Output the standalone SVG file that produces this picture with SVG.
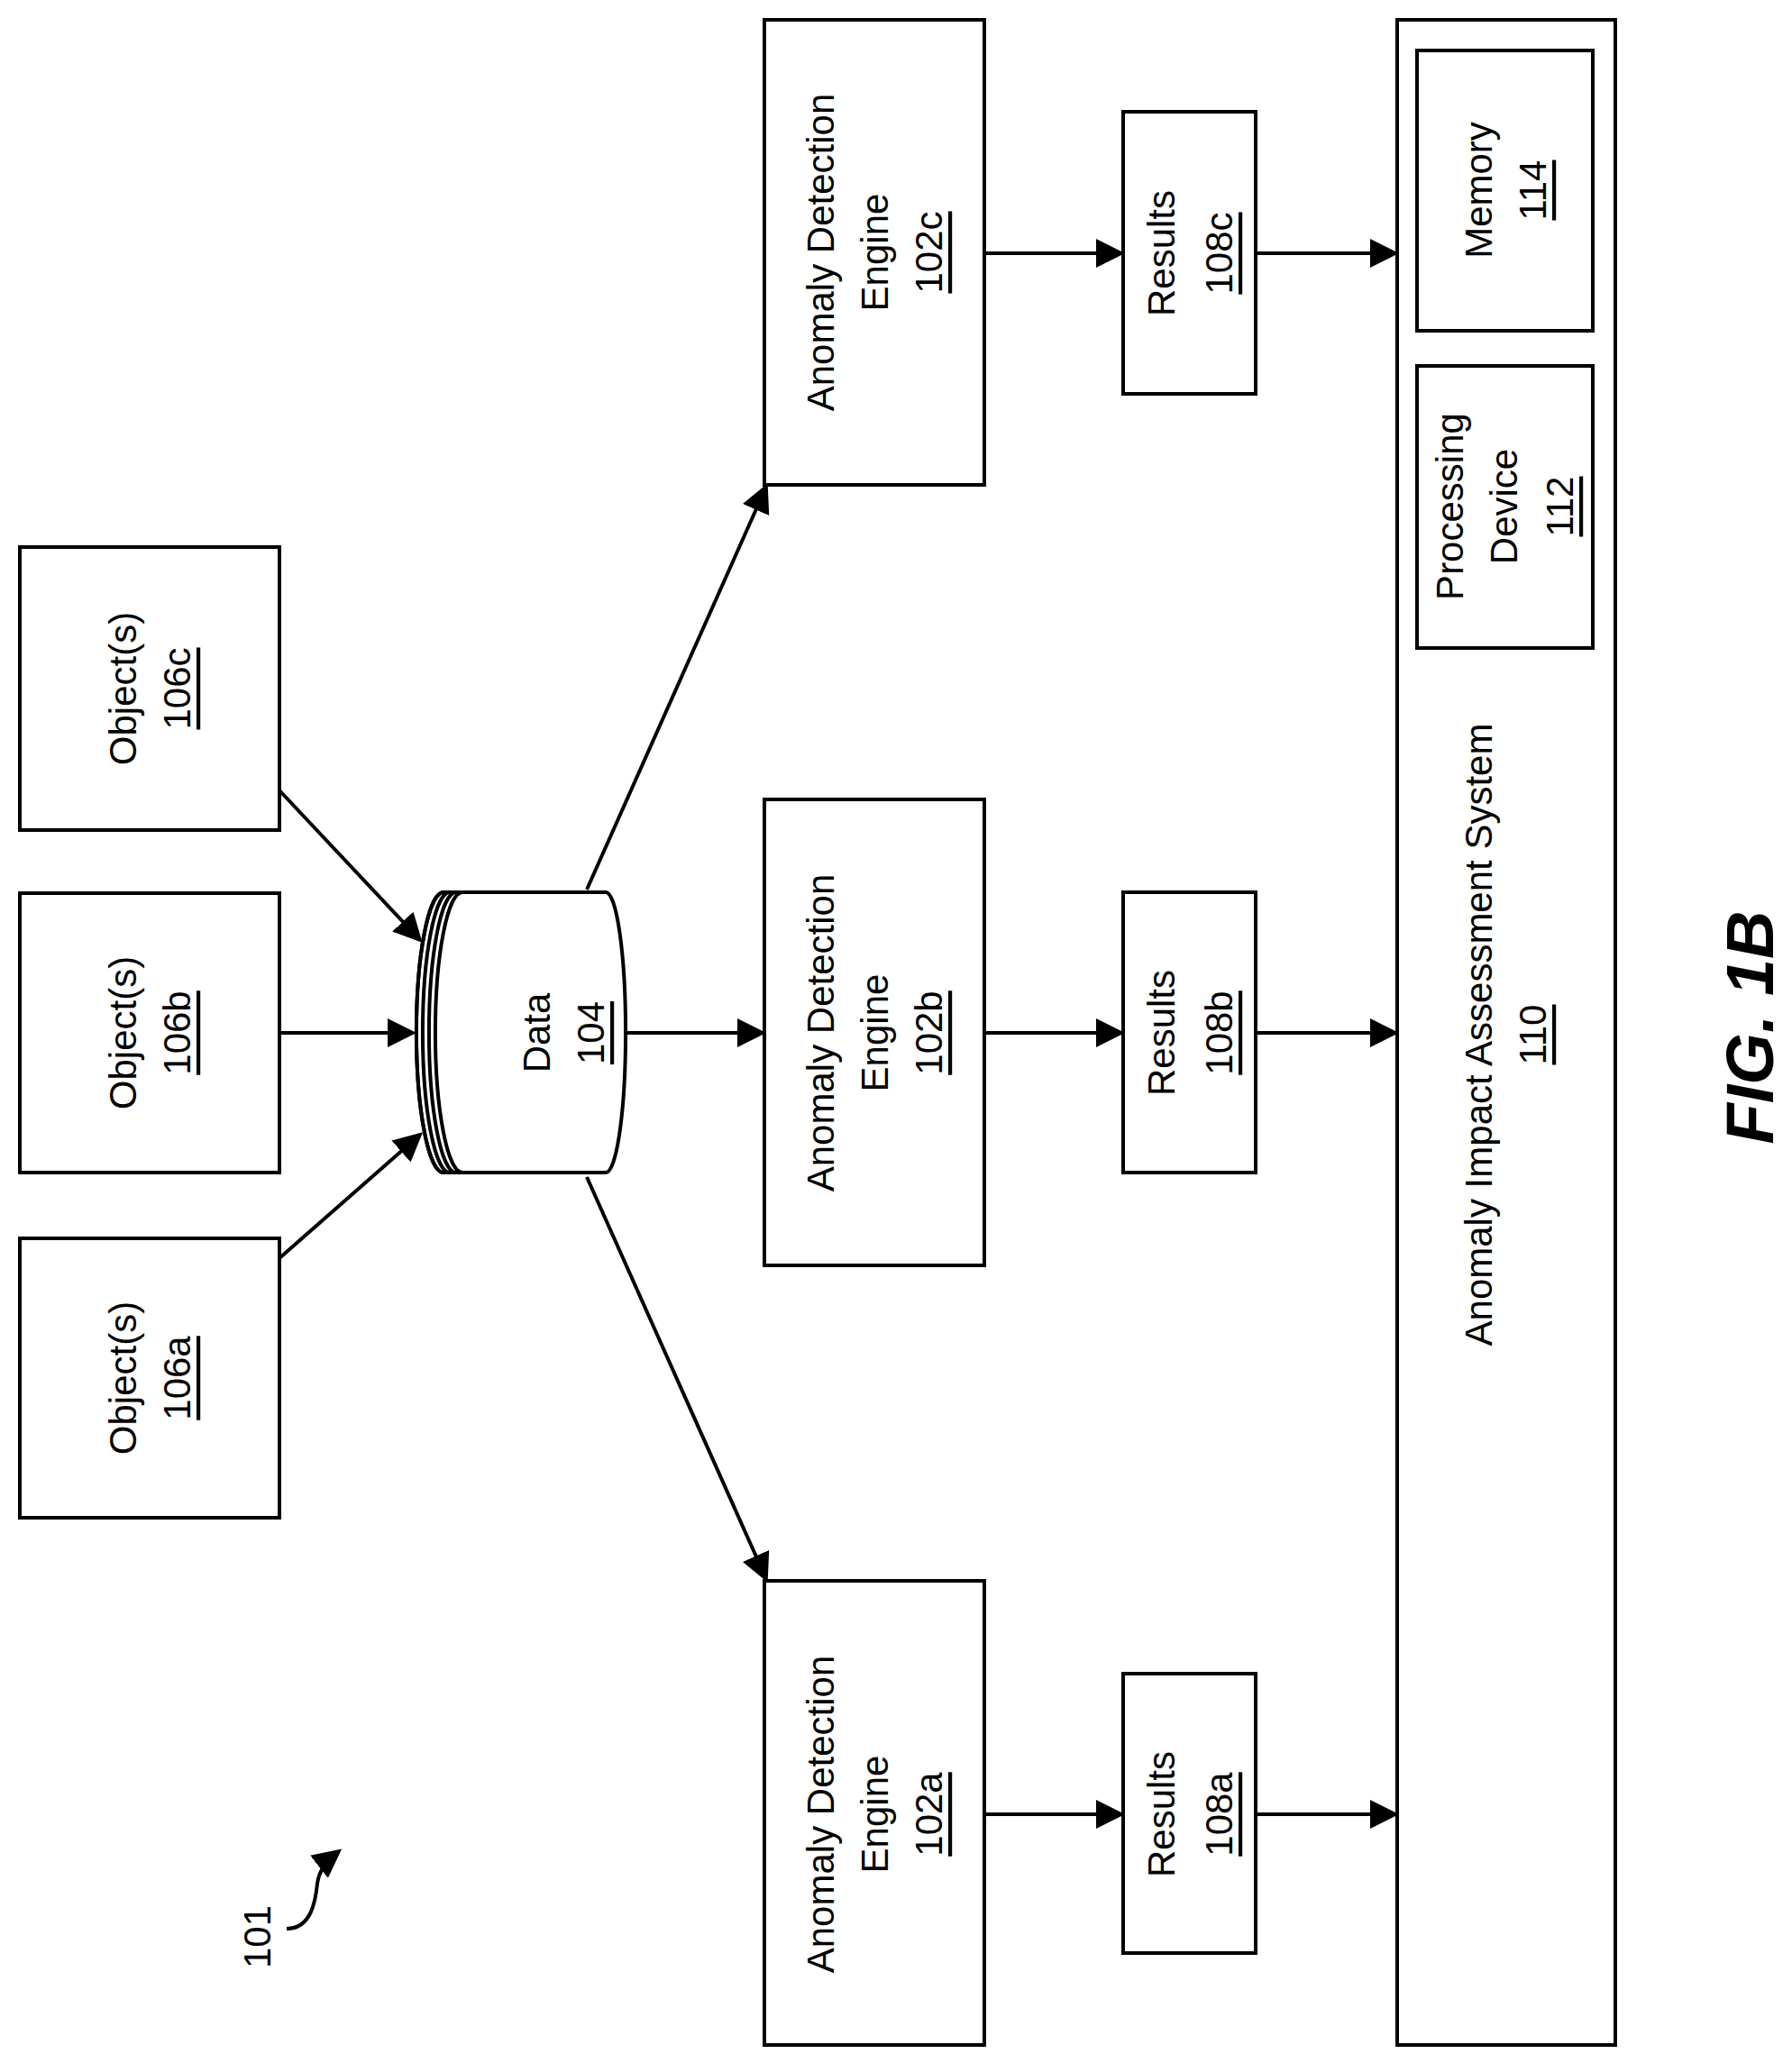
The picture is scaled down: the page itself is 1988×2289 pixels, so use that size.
<svg xmlns="http://www.w3.org/2000/svg" width="1988" height="2289" viewBox="0 0 1988 2289">
<style>
.b{fill:#fff;stroke:#000;stroke-width:4}
.t{font-family:"Liberation Sans",Arial,sans-serif;font-size:42px;text-anchor:middle;dominant-baseline:central;fill:#000}
.u{text-decoration:underline}
.c{stroke:#000;stroke-width:4;fill:none}
</style>
<defs><marker id="a" markerWidth="8" markerHeight="8" refX="7" refY="4" orient="auto" markerUnits="strokeWidth"><path d="M0,0 L8,4 L0,8 z"/></marker></defs>
<rect width="1988" height="2289" fill="#fff"/>
<g id="n106c"><rect class="b" x="22" y="607" width="288" height="314"/><text class="t" transform="translate(166,764) rotate(-90)"><tspan x="0" y="-30">Object(s)</tspan><tspan x="0" y="30" class="u">106c</tspan></text></g>
<g id="n106b"><rect class="b" x="22" y="991" width="288" height="310"/><text class="t" transform="translate(166,1146) rotate(-90)"><tspan x="0" y="-30">Object(s)</tspan><tspan x="0" y="30" class="u">106b</tspan></text></g>
<g id="n106a"><rect class="b" x="22" y="1374" width="288" height="310"/><text class="t" transform="translate(166,1529) rotate(-90)"><tspan x="0" y="-30">Object(s)</tspan><tspan x="0" y="30" class="u">106a</tspan></text></g>
<g id="n104"><path class="b" d="M492,990 L672,990 A22,155 0 0 1 672,1301 L492,1301 A30,155 0 0 1 492,990 z"/><path class="c" stroke-width="3" d="M492,990 A30,155 0 0 0 492,1301 M499,990 A30,155 0 0 0 499,1301 M506,990 A30,155 0 0 0 506,1301 M513,990 A30,155 0 0 0 513,1301"/><text class="t" transform="translate(625,1146) rotate(-90)"><tspan x="0" y="-30">Data</tspan><tspan x="0" y="30" class="u">104</tspan></text></g>
<g id="n102c"><rect class="b" x="848" y="22" width="244" height="516"/><text class="t" transform="translate(970,280) rotate(-90)"><tspan x="0" y="-60">Anomaly Detection</tspan><tspan x="0" y="0">Engine</tspan><tspan x="0" y="60" class="u">102c</tspan></text></g>
<g id="n102b"><rect class="b" x="848" y="887" width="244" height="517"/><text class="t" transform="translate(970,1146) rotate(-90)"><tspan x="0" y="-60">Anomaly Detection</tspan><tspan x="0" y="0">Engine</tspan><tspan x="0" y="60" class="u">102b</tspan></text></g>
<g id="n102a"><rect class="b" x="848" y="1754" width="244" height="515"/><text class="t" transform="translate(970,2013) rotate(-90)"><tspan x="0" y="-60">Anomaly Detection</tspan><tspan x="0" y="0">Engine</tspan><tspan x="0" y="60" class="u">102a</tspan></text></g>
<g id="n108c"><rect class="b" x="1246" y="124" width="147" height="313"/><text class="t" transform="translate(1320,281) rotate(-90)"><tspan x="0" y="-32">Results</tspan><tspan x="0" y="32" class="u">108c</tspan></text></g>
<g id="n108b"><rect class="b" x="1246" y="990" width="147" height="311"/><text class="t" transform="translate(1320,1146) rotate(-90)"><tspan x="0" y="-32">Results</tspan><tspan x="0" y="32" class="u">108b</tspan></text></g>
<g id="n108a"><rect class="b" x="1246" y="1857" width="147" height="310"/><text class="t" transform="translate(1320,2013) rotate(-90)"><tspan x="0" y="-32">Results</tspan><tspan x="0" y="32" class="u">108a</tspan></text></g>
<g id="n110"><rect class="b" x="1550" y="22" width="242" height="2247"/><text class="t" transform="translate(1670,1148) rotate(-90)"><tspan x="0" y="-30">Anomaly Impact Assessment System</tspan><tspan x="0" y="30" class="u">110</tspan></text></g>
<g id="n114"><rect class="b" x="1572" y="56" width="195" height="311"/><text class="t" transform="translate(1670,211) rotate(-90)"><tspan x="0" y="-30">Memory</tspan><tspan x="0" y="30" class="u">114</tspan></text></g>
<g id="n112"><rect class="b" x="1572" y="406" width="195" height="313"/><text class="t" transform="translate(1670,562) rotate(-90)"><tspan x="0" y="-62">Processing</tspan><tspan x="0" y="-2">Device</tspan><tspan x="0" y="60" class="u">112</tspan></text></g>
<g id="connectors">
<line class="c" x1="310" y1="877" x2="466" y2="1043" marker-end="url(#a)"/>
<line class="c" x1="310" y1="1146" x2="458" y2="1146" marker-end="url(#a)"/>
<line class="c" x1="310" y1="1396" x2="466" y2="1259" marker-end="url(#a)"/>
<line class="c" x1="651" y1="987" x2="850" y2="540" marker-end="url(#a)"/>
<line class="c" x1="694" y1="1146" x2="846" y2="1146" marker-end="url(#a)"/>
<line class="c" x1="651" y1="1306" x2="850" y2="1752" marker-end="url(#a)"/>
<line class="c" x1="1092" y1="281" x2="1244" y2="281" marker-end="url(#a)"/>
<line class="c" x1="1092" y1="1146" x2="1244" y2="1146" marker-end="url(#a)"/>
<line class="c" x1="1092" y1="2013" x2="1244" y2="2013" marker-end="url(#a)"/>
<line class="c" x1="1393" y1="281" x2="1548" y2="281" marker-end="url(#a)"/>
<line class="c" x1="1393" y1="1146" x2="1548" y2="1146" marker-end="url(#a)"/>
<line class="c" x1="1393" y1="2013" x2="1548" y2="2013" marker-end="url(#a)"/>
<path class="c" stroke-width="3" d="M318,2140 C345,2140 350,2110 352,2090 C354,2075 362,2065 376,2054" marker-end="url(#a)"/>
</g>
<text class="t" transform="translate(285,2149) rotate(-90)">101</text>
<text transform="translate(1941,1140) rotate(-90)" font-family="Liberation Sans,Arial,sans-serif" font-size="74" font-weight="bold" font-style="italic" text-anchor="middle" dominant-baseline="central">FIG. 1B</text>
</svg>
